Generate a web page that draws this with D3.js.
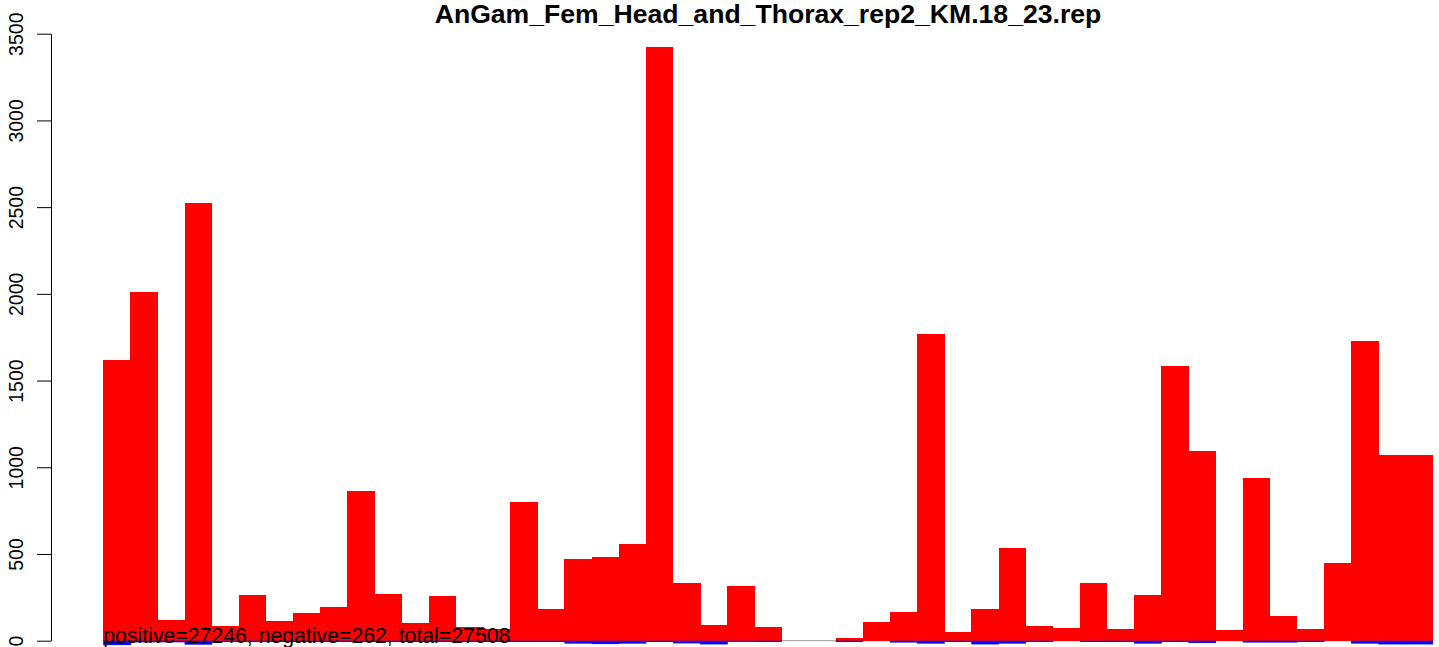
<!DOCTYPE html>
<html>
<head>
<meta charset="utf-8">
<script src="https://cdn.jsdelivr.net/npm/d3@7"></script>
<style>
  html, body { margin: 0; padding: 0; background: #fff; }
  svg { display: block; }
  text { font-family: "Liberation Sans", Arial, Helvetica, sans-serif; }
</style>
</head>
<body>
<svg id="chart" width="1439" height="647"></svg>
<script>
// ---- data ----
const title = "AnGam_Fem_Head_and_Thorax_rep2_KM.18_23.rep";
const positives = [1620, 2010, 119, 2524, 85, 263, 114, 162, 194, 863,
                   269, 102, 258, 79, 66, 800, 183, 471, 484, 558,
                   3424, 333, 90, 315, 79, 0, 0, 16, 110, 167,
                   1769, 52, 183, 535, 85, 73, 333, 67, 265, 1584,
                   1094, 62, 938, 142, 67, 448, 1728, 1071, 1071];
const negatives = [20, 4, 4, 17, 2, 2, 2, 2, 2, 2,
                   2, 2, 2, 2, 2, 2, 2, 11, 14, 11,
                   2, 10, 16, 1, 2, 0, 0, 2, 0, 5,
                   11, 2, 16, 11, 2, 0, 2, 2, 11, 2,
                   8, 0, 5, 5, 2, 0, 11, 16, 16];
const yTicks = [0, 500, 1000, 1500, 2000, 2500, 3000, 3500];
const summary = "positive=27246, negative=262, total=27508";

// ---- layout ----
const svg = d3.select("#chart");
const axisX = 51;
const x = d3.scaleBand().domain(d3.range(positives.length)).range([103.3, 1432.6]).padding(0);
const y = d3.scaleLinear().domain([0, 3500]).range([640.7, 33.7]);

// baseline
svg.append("line")
  .attr("x1", x.range()[0]).attr("x2", x.range()[1])
  .attr("y1", y(0)).attr("y2", y(0))
  .attr("stroke", "#999").attr("stroke-width", 1);

// positive bars
svg.append("g").selectAll("rect").data(positives.map((v, i) => ({v, i})).filter(d => d.v > 0)).join("rect")
  .attr("x", d => x(d.i))
  .attr("width", x.bandwidth() + 0.4)
  .attr("y", d => y(d.v))
  .attr("height", d => y(0) - y(d.v))
  .attr("fill", "#ff0000")
  .attr("shape-rendering", "crispEdges");

// negative bars
svg.append("g").selectAll("rect").data(negatives.map((v, i) => ({v, i})).filter(d => d.v > 0)).join("rect")
  .attr("x", d => x(d.i) + 0.4)
  .attr("width", x.bandwidth() - 0.4)
  .attr("y", y(0) + 0.5)
  .attr("height", d => y(0) - y(d.v))
  .attr("fill", "#0000ff")
  .attr("stroke", "#0000ff")
  .attr("stroke-width", 0.9);

// y axis
const axis = d3.axisLeft(y).tickValues(yTicks).tickSize(14).tickSizeOuter(0).tickFormat(d3.format("d"));
const ag = svg.append("g").attr("transform", `translate(${axisX},0)`).call(axis);
ag.select(".domain").attr("stroke", "#000").attr("stroke-width", 1);
ag.selectAll(".tick line").attr("stroke", "#000").attr("stroke-width", 1);
ag.selectAll(".tick text")
  .attr("x", null).attr("dy", null)
  .attr("transform", "translate(-28,0) rotate(-90)")
  .attr("text-anchor", "middle")
  .attr("fill", "#000")
  .style("font-size", "19.5px")
  .style("font-family", "'Liberation Sans', Arial, sans-serif");

// title
svg.append("text")
  .attr("x", 768).attr("y", 23)
  .attr("text-anchor", "middle")
  .style("font-size", "26.6px").style("font-weight", "bold")
  .text(title);

// summary text
svg.append("text")
  .attr("x", 103.3).attr("y", 643)
  .style("font-size", "21.25px")
  .attr("fill", "#000")
  .text(summary);
</script>
</body>
</html>
